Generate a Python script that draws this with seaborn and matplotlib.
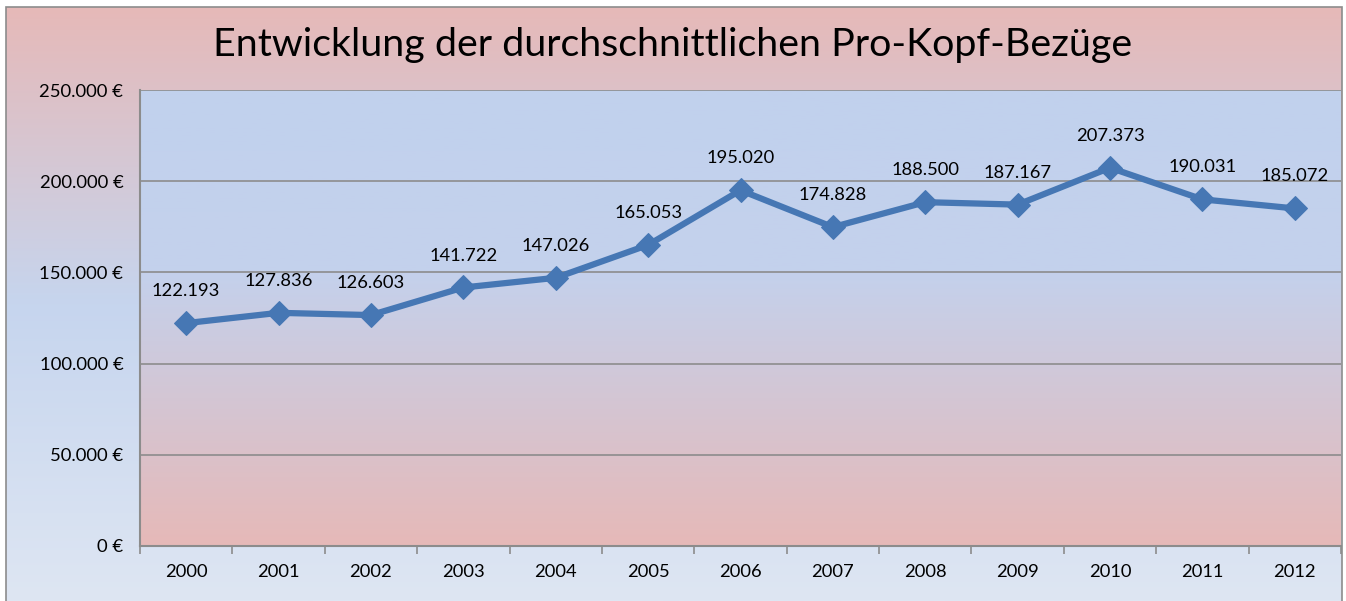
import numpy as np
import pandas as pd
import matplotlib
matplotlib.use("Agg")
import matplotlib.pyplot as plt
from matplotlib.patches import Rectangle
from matplotlib.ticker import FuncFormatter, FixedLocator
import seaborn as sns

years = ["2000", "2001", "2002", "2003", "2004", "2005", "2006",
         "2007", "2008", "2009", "2010", "2011", "2012"]
values = [122193, 127836, 126603, 141722, 147026, 165053, 195020,
          174828, 188500, 187167, 207373, 190031, 185072]
title = "Entwicklung der durchschnittlichen Pro-Kopf-Bezüge"

sns.set_theme(style="white")
plt.rcParams['font.family'] = ['Lato', 'DejaVu Sans']

W, H = 1346, 601
fig = plt.figure(figsize=(W / 100, H / 100), dpi=100)
fig.patch.set_facecolor("white")

def grad(stops, n=256):
    pos = np.array([s[0] for s in stops])
    cols = np.array([s[1] for s in stops], dtype=float) / 255.0
    t = np.linspace(0, 1, n)
    out = np.stack([np.interp(t, pos, cols[:, i]) for i in range(3)], axis=1)
    return out[:, None, :]

# figure background gradient (top pink -> blue -> light blue)
bx0, bx1, by0 = 6, 1342, 7
bg = fig.add_axes([bx0 / W, 0, (bx1 - bx0) / W, (H - by0) / H], zorder=-5)
bg.imshow(grad([(0, (230, 185, 184)), (0.5, (198, 213, 238)), (1.0, (222, 230, 243))]),
          aspect="auto", extent=(0, 1, 0, 1))
bg.set_axis_off()
fig.add_artist(Rectangle((bx0 / W, -0.01), (bx1 - bx0) / W, (H - by0) / H + 0.01,
                         transform=fig.transFigure, fill=False,
                         edgecolor="#8c8c8c", linewidth=1.2, zorder=10))

# plot area
L, R, T, B = 140, 1341, 90, 546
ax = fig.add_axes([L / W, (H - B) / H, (R - L) / W, (B - T) / H])
ax.patch.set_visible(False)

df = pd.DataFrame({"Jahr": years, "Bezug": values})
df["pos"] = np.arange(len(years))

ax.imshow(grad([(0, (193, 209, 238)), (0.4, (196, 209, 236)), (1.0, (230, 185, 184))]),
          aspect="auto", extent=(-0.5, len(years) - 0.5, 0, 250000), zorder=0)

sns.lineplot(data=df, x="pos", y="Bezug", ax=ax, color="#4677b4", linewidth=4.5,
             marker="D", markersize=12.5, markeredgecolor="#4677b4", zorder=5)

ax.set_xlim(-0.5, len(years) - 0.5)
ax.set_ylim(0, 250000)

ax.set_yticks(np.arange(0, 250001, 50000))
ax.yaxis.set_major_formatter(FuncFormatter(lambda v, p: f"{int(v):,} €".replace(",", ".")))
ax.set_xticks(df["pos"])
ax.set_xticklabels(years)
ax.xaxis.set_minor_locator(FixedLocator(np.arange(-0.5, len(years), 1.0)))
ax.tick_params(axis="x", which="major", length=0, pad=13, labelsize=13.2, colors="black")
ax.tick_params(axis="x", which="minor", length=6, width=1.2, color="#8c8c8c",
               direction="out", bottom=True)
ax.tick_params(axis="y", which="major", length=7, width=1.2, color="#8c8c8c",
               direction="out", pad=5, labelsize=13.3, labelcolor="black")

ax.grid(axis="y", color="#8c8c8c", linewidth=1.2, zorder=1)
ax.set_axisbelow(False)
for s in ["top", "right"]:
    ax.spines[s].set_visible(False)
for s in ["left", "bottom"]:
    ax.spines[s].set_color("#8c8c8c")
    ax.spines[s].set_linewidth(1.5)
ax.set_xlabel("")
ax.set_ylabel("")

for x, v in zip(df["pos"], df["Bezug"]):
    ax.annotate(f"{v:,}".replace(",", "."), (x, v), xytext=(0, 23),
                textcoords="offset points", ha="center", va="center",
                fontsize=13.2, color="black", zorder=6)

fig.text(0.5, 1 - 45 / H, title, ha="center", va="center", fontsize=28.4, color="black")

fig.savefig("out.png", dpi=100)
